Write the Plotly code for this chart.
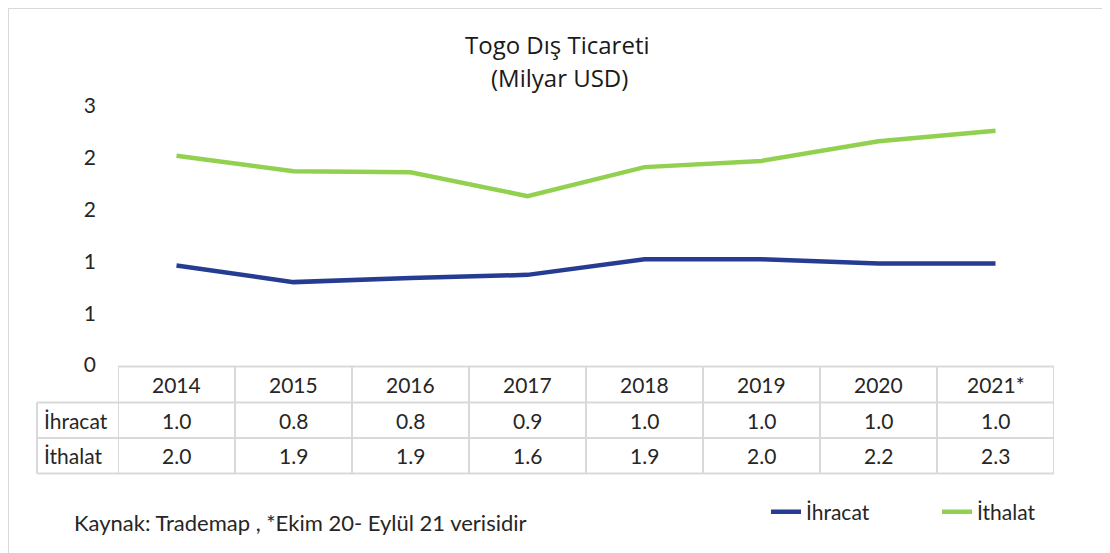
import plotly.graph_objects as go

years = ["2014", "2015", "2016", "2017", "2018", "2019", "2020", "2021*"]
ihracat = [0.96, 0.80, 0.84, 0.87, 1.02, 1.02, 0.98, 0.98]
ithalat = [2.02, 1.87, 1.86, 1.63, 1.91, 1.97, 2.16, 2.26]
ytick_vals = [0, 0.5, 1.0, 1.5, 2.0, 2.5]
ytick_text = ["0", "1", "1", "2", "2", "3"]

BLUE = "#253C92"
GREEN = "#92D050"
GRID = "#D9D9D9"
TXT = "#262626"
FONT = "Lato, Open Sans, sans-serif"

# page body has an 8px margin, so the figure is drawn 8px smaller and
# every position below is given in page pixels
OFF = 8
W, H = 1110, 553
L, R, T, B = 118, 1054, 106, 365  # plot area in page px


def px_x(px):
    return (px - L) / (R - L)


def px_y(py):
    return (B - py) / (B - T)


def note(x, y, text, size=21, xref="paper", xanchor="center", family=FONT, color=TXT):
    return dict(x=x, y=y, xref=xref, yref="paper", text=text, showarrow=False,
                xanchor=xanchor, yanchor="middle", font=dict(size=size, color=color, family=family))


fig = go.Figure()
fig.add_trace(go.Scatter(x=list(range(len(years))), y=ihracat, name="İhracat", mode="lines",
                         line=dict(color=BLUE, width=4.5)))
fig.add_trace(go.Scatter(x=list(range(len(years))), y=ithalat, name="İthalat", mode="lines",
                         line=dict(color=GREEN, width=4.5)))

shapes = []
annotations = []
grid = dict(color=GRID, width=2)

# data table grid
row_lines = [366.5, 402.5, 438, 473.5]
shapes.append(dict(type="line", xref="x", yref="paper", x0=-0.5, x1=len(years) - 0.5,
                   y0=px_y(row_lines[0]), y1=px_y(row_lines[0]), line=grid))
for py in row_lines[1:]:
    shapes.append(dict(type="line", xref="paper", yref="paper", x0=px_x(37), x1=1,
                       y0=px_y(py), y1=px_y(py), line=grid))
for k in range(len(years) + 1):
    shapes.append(dict(type="line", xref="x", yref="paper", x0=k - 0.5, x1=k - 0.5,
                       y0=px_y(row_lines[0]), y1=px_y(row_lines[-1]), line=grid))
shapes.append(dict(type="line", xref="paper", yref="paper", x0=px_x(37), x1=px_x(37),
                   y0=px_y(row_lines[1]), y1=px_y(row_lines[-1]), line=grid))

# outer chart border (left and top)
shapes.append(dict(type="line", xref="paper", yref="paper", x0=px_x(OFF), x1=px_x(OFF),
                   y0=px_y(OFF), y1=px_y(H), line=grid))
shapes.append(dict(type="line", xref="paper", yref="paper", x0=px_x(OFF), x1=px_x(W),
                   y0=px_y(OFF), y1=px_y(OFF), line=grid))

rows = [("İhracat", ihracat), ("İthalat", ithalat)]
mid_y = [(row_lines[i] + row_lines[i + 1]) / 2 for i in range(3)]
for i, yr in enumerate(years):
    annotations.append(note(i, px_y(mid_y[0]), yr, xref="x"))
for r, (label, vals) in enumerate(rows):
    annotations.append(note(px_x(42), px_y(mid_y[r + 1]), label, xanchor="left"))
    for i, v in enumerate(vals):
        annotations.append(note(i, px_y(mid_y[r + 1]), f"{v:.1f}", xref="x"))

# title
annotations.append(note(px_x(557), px_y(44), "Togo Dış Ticareti", size=24,
                        family="Open Sans, sans-serif", color="#1a1a1a"))
annotations.append(note(px_x(559), px_y(77), "(Milyar USD)", size=24,
                        family="Open Sans, sans-serif", color="#1a1a1a"))

# source note
annotations.append(note(px_x(72), px_y(522), "Kaynak: Trademap , *Ekim 20- Eylül 21 verisidir",
                        size=22, xanchor="left"))

fig.update_layout(
    width=W - OFF, height=H - OFF,
    margin=dict(l=L - OFF, r=W - R, t=T - OFF, b=H - B, autoexpand=False),
    paper_bgcolor="white", plot_bgcolor="white",
    showlegend=True,
    legend=dict(orientation="h", x=px_x(766), y=px_y(512), xanchor="left", yanchor="middle",
                font=dict(size=21, color=TXT, family=FONT), entrywidth=126, entrywidthmode="pixels",
                bgcolor="rgba(0,0,0,0)", borderwidth=0),
    xaxis=dict(range=[-0.5, len(years) - 0.5], showticklabels=False, showgrid=False,
               zeroline=False, showline=False),
    yaxis=dict(range=[0, 2.5], tickvals=ytick_vals, ticktext=ytick_text, showgrid=False,
               zeroline=False, showline=False, ticklabelstandoff=21,
               tickfont=dict(size=21, color=TXT, family=FONT)),
    shapes=shapes,
    annotations=annotations,
)

fig.write_html("out.html")
